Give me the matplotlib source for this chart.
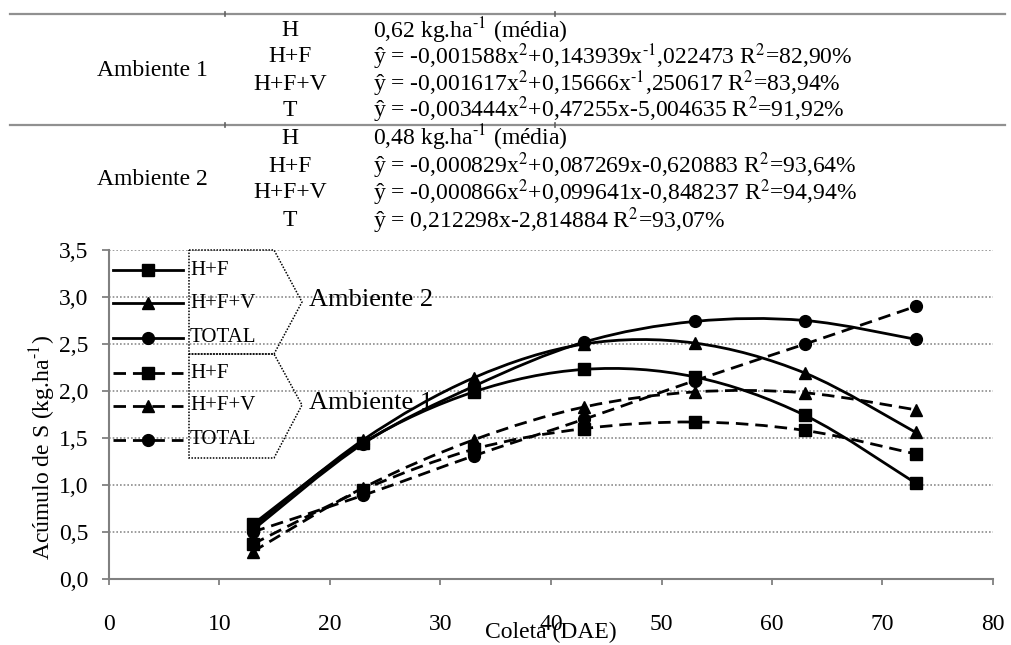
import numpy as np
import matplotlib
matplotlib.use("Agg")
from matplotlib import pyplot as plt
from matplotlib.path import Path
from matplotlib.patches import PathPatch, Polygon
from matplotlib.lines import Line2D

plt.rcParams['font.family'] = ['Liberation Serif', 'DejaVu Serif']
plt.rcParams['mathtext.fontset'] = 'stix'

# Coletas (DAE)
coleta = [13, 23, 33, 43, 53, 63, 73]

# Ambiente 2 (linhas cheias)
hf_2 = [0.58, 1.45, 1.99, 2.23, 2.15, 1.74, 1.02]
hfv_2 = [0.55, 1.48, 2.14, 2.50, 2.51, 2.19, 1.56]
total_2 = [0.52, 1.44, 2.05, 2.52, 2.74, 2.75, 2.55]

# Ambiente 1 (linhas tracejadas)
hf_1 = [0.37, 0.95, 1.38, 1.60, 1.67, 1.58, 1.33]
hfv_1 = [0.29, 0.97, 1.48, 1.83, 1.99, 1.98, 1.80]
total_1 = [0.50, 0.89, 1.31, 1.70, 2.11, 2.50, 2.90]

amb_labels = ["Ambiente 1", "Ambiente 2"]
trat_labels = ["H", "H+F", "H+F+V", "T"]
eq_amb1 = [r"0,62 kg.ha$^{\text{-}1}$ (média)",
           r"ŷ = -0,001588x$^{2}$+0,143939x$^{\text{-}1}$,022473 R$^{2}$=82,90%",
           r"ŷ = -0,001617x$^{2}$+0,15666x$^{\text{-}1}$,250617 R$^{2}$=83,94%",
           r"ŷ = -0,003444x$^{2}$+0,47255x-5,004635 R$^{2}$=91,92%"]
eq_amb2 = [r"0,48 kg.ha$^{\text{-}1}$ (média)",
           r"ŷ = -0,000829x$^{2}$+0,087269x-0,620883 R$^{2}$=93,64%",
           r"ŷ = -0,000866x$^{2}$+0,099641x-0,848237 R$^{2}$=94,94%",
           r"ŷ = 0,212298x-2,814884 R$^{2}$=93,07%"]
leg_labels = ["H+F", "H+F+V", "TOTAL"]

W, H = 1012, 645
fig = plt.figure(figsize=(W / 100, H / 100), dpi=100)


def px(x, y):
    """pixel (origem no topo) -> fração da figura"""
    return x / W, 1 - y / H


def smooth_path(x, y):
    """curva suavizada (Catmull-Rom -> Bezier) passando pelos pontos"""
    x = np.asarray(x, float)
    y = np.asarray(y, float)
    pts = np.column_stack([x, y])
    verts = [pts[0]]
    codes = [Path.MOVETO]
    n = len(pts)
    for i in range(n - 1):
        p0 = pts[i - 1] if i > 0 else pts[i]
        p1 = pts[i]
        p2 = pts[i + 1]
        p3 = pts[i + 2] if i + 2 < n else pts[i + 1]
        c1 = p1 + (p2 - p0) / 6
        c2 = p2 - (p3 - p1) / 6
        verts += [c1, c2, p2]
        codes += [Path.CURVE4] * 3
    return Path(verts, codes)


ax = fig.add_axes([109 / W, 1 - 579 / H, 884 / W, 329 / H])
ax.set_xlim(0, 80)
ax.set_ylim(0, 3.5)
ax.set_xticks(range(0, 81, 10))
ax.set_yticks(np.arange(0, 3.51, 0.5))
ax.set_yticklabels([f"{v:.1f}".replace(".", ",") for v in np.arange(0, 3.51, 0.5)])
for s in ["top", "right"]:
    ax.spines[s].set_visible(False)
for s in ["left", "bottom"]:
    ax.spines[s].set_color("#808080")
    ax.spines[s].set_linewidth(1.5)
ax.tick_params(axis="x", length=4, width=1.3, color="#808080", pad=21, labelsize=17)
ax.tick_params(axis="y", length=5, width=1.3, color="#808080", pad=10, labelsize=17)
ax.yaxis.grid(True, linestyle=(0, (1, 1.2)), color="#8c8c8c", linewidth=1.2)
ax.set_axisbelow(True)

series = [
    (hf_2, "s", "-"), (hfv_2, "^", "-"), (total_2, "o", "-"),
    (hf_1, "s", "--"), (hfv_1, "^", "--"), (total_1, "o", "--"),
]
for vals, mk, ls in series:
    patch = PathPatch(smooth_path(coleta, vals), facecolor="none", edgecolor="black",
                      linewidth=2.0, linestyle=(0, (4.5, 2.5)) if ls == "--" else "-",
                      clip_on=False)
    ax.add_patch(patch)
    ax.plot(coleta, vals, linestyle="none", marker=mk, color="black",
            markersize=9 if mk != "o" else 8.5, clip_on=False, zorder=3)

# rótulos dos eixos
ax.set_ylabel("Acúmulo de S (kg.ha$^{\\text{-}1}$)", fontsize=17)
ax.yaxis.set_label_coords(-0.058, 0.40)
fig.text(*px(551, 632), "Coleta (DAE)", fontsize=17, ha="center", va="center")

# legenda desenhada à mão
leg_y = [270, 303, 338, 373, 406, 440]
leg_styles = [("s", "-"), ("^", "-"), ("o", "-"), ("s", "--"), ("^", "--"), ("o", "--")]
for yy, (mk, ls), lab in zip(leg_y, leg_styles, leg_labels * 2):
    x0, y0 = px(113, yy)
    x1, _ = px(183, yy)
    fig.add_artist(Line2D([x0, x1], [y0, y0], color="black", linewidth=2.0,
                          linestyle=(0, (4.5, 2.5)) if ls == "--" else "-"))
    fig.add_artist(Line2D([px(148, yy)[0]], [y0], color="black", marker=mk,
                          markersize=9 if mk != "o" else 8.5))
    fig.text(*px(190, yy), lab, fontsize=15, ha="left", va="center")

for top, bot, tip, lab in [(250, 354, 302, "Ambiente 2"), (354, 458, 405, "Ambiente 1")]:
    poly = Polygon([px(189, top), px(274, top), px(302, tip), px(274, bot), px(189, bot)],
                   closed=True, fill=False, edgecolor="black", linewidth=1.1,
                   linestyle=(0, (1, 1)), transform=fig.transFigure)
    fig.add_artist(poly)
    fig.text(*px(309, tip - 2), lab, fontsize=19, ha="left", va="center")

# tabela de equações no topo
for yy in [14, 125]:
    fig.add_artist(Line2D([10 / W, 1005 / W], [1 - yy / H] * 2, color="#909090", linewidth=1.6))
    for xx in [225, 555]:
        fig.add_artist(Line2D([xx / W] * 2, [1 - (yy - 2) / H, 1 - (yy + 2) / H],
                              color="#606060", linewidth=1.2))

rows_1 = [31, 57, 84, 110]
rows_2 = [138, 166, 193, 221]
for amb, rows, eqs in [(amb_labels[0], rows_1, eq_amb1), (amb_labels[1], rows_2, eq_amb2)]:
    fig.text(*px(152, np.mean(rows)), amb, fontsize=17, ha="center", va="center")
    for yy, trat, eq in zip(rows, trat_labels, eqs):
        fig.text(*px(290, yy), trat, fontsize=17, ha="center", va="center")
        fig.text(*px(373, yy), eq, fontsize=17, ha="left", va="center")

fig.savefig("out.png", dpi=100)
